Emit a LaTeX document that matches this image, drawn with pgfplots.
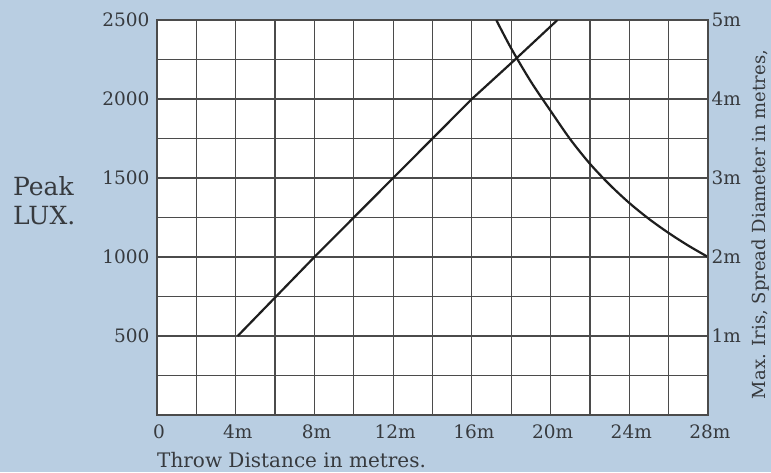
\documentclass[border=0pt]{standalone}
\usepackage{pgfplots}
\pgfplotsset{compat=1.18}
\usepackage{fontspec}
\setmainfont{DejaVu Serif}
\definecolor{bgblue}{RGB}{185,206,226}
\definecolor{txt}{RGB}{55,58,62}
\definecolor{gridc}{RGB}{75,75,75}
\definecolor{ink}{RGB}{30,30,30}
\begin{document}
\begin{tikzpicture}[x=1pt,y=1pt]
\fill[bgblue] (0,0) rectangle (771,472);
\begin{axis}[
  at={(157pt,57pt)}, anchor=south west,
  width=551pt, height=395pt, scale only axis,
  xmin=0, xmax=28, ymin=0, ymax=2500,
  axis background/.style={fill=white},
  xtick={0,4,...,28},
  xticklabels={0,4m,8m,12m,16m,20m,24m,28m},
  ytick={500,1000,1500,2000,2500},
  yticklabels={500,1000,1500,2000,2500},
  minor xtick={0,2,...,28},
  minor ytick={0,250,...,2500},
  grid=both,
  major grid style={gridc, line width=1.2pt},
  minor grid style={gridc, line width=1.2pt},
  axis line style={gridc, line width=1.4pt},
  major tick length=0pt, minor tick length=0pt,
  tick label style={font=\fontsize{18.5}{22}\selectfont, text=txt},
  yticklabel style={xshift=-4pt},
  xticklabel style={yshift=-6pt, xshift=2pt},
  xlabel={Throw Distance in metres.},
  xlabel style={font=\fontsize{20}{23}\selectfont, text=txt, at={(axis description cs:0,0)}, anchor=base west, yshift=-52pt, inner sep=0pt},
  ylabel={Peak\\LUX.},
  ylabel style={rotate=-90, align=left, font=\fontsize{25}{29}\selectfont, text=txt, at={(axis description cs:0,0.5)}, anchor=west, xshift=-144pt, yshift=17pt, inner sep=0pt},
  clip=true,
]
\addplot[ink, line width=2.2pt] coordinates {(4.1,500) (8,1000) (12,1500) (16,2000) (18.2,2250) (20.35,2500)};
\addplot[ink, line width=2.2pt, smooth] coordinates {(17.24,2500) (18,2320) (19,2110) (20,1925) (21,1745) (22,1590) (23,1458) (24,1342) (25,1241) (26,1152) (27,1072) (28,1000)};
\end{axis}
\begin{axis}[
  at={(157pt,57pt)}, anchor=south west,
  width=551pt, height=395pt, scale only axis,
  xmin=0, xmax=28, ymin=0, ymax=5,
  axis x line=none, axis y line*=right,
  axis line style={gridc, line width=1.4pt},
  ytick={1,2,3,4,5},
  yticklabels={1m,2m,3m,4m,5m},
  major tick length=0pt,
  tick label style={font=\fontsize{18.5}{22}\selectfont, text=txt},
  ylabel={Max. Iris, Spread Diameter in metres,},
  ylabel style={font=\fontsize{18}{21}\selectfont, text=txt, at={(axis description cs:1,0.5)}, anchor=center, xshift=-7pt, yshift=-53pt, inner sep=0pt},
]
\end{axis}
\pgfresetboundingbox
\path[use as bounding box] (0,0) rectangle (771,472);
\end{tikzpicture}
\end{document}
